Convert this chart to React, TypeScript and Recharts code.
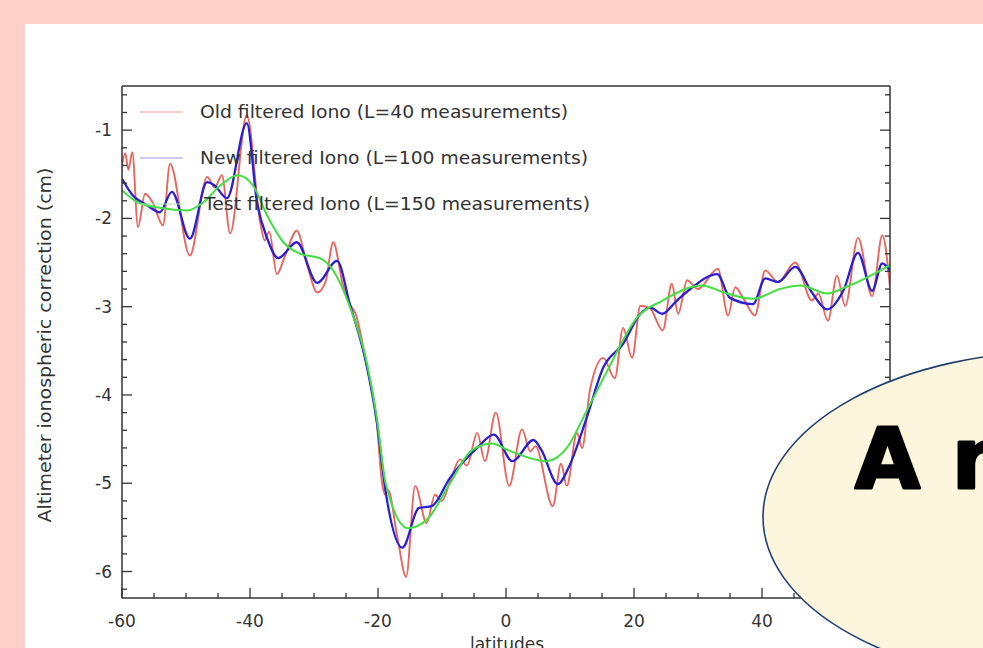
import React from "react";
import { Line, LineChart, XAxis, YAxis } from "recharts";

// latitudes / values, one pair of arrays per filter
const OLD_LAT = [
  -60, -59.5, -59.0, -58.4, -57.5, -56.4, -55.2, -53.6, -52.5, -49.4, -46.7, -45.5, -44.4, -43.1,
  -40.5, -38.4, -37.7, -37.0, -35.8, -34.5, -32.7, -31.0, -29.5, -28.2, -27.0, -25.5, -24.4, -23.5,
  -21.7, -20.2, -19.4, -18.9, -18.4, -17.0, -15.6, -14.2, -12.4, -11.1, -10.0, -8.75, -7.2, -6.1,
  -4.5, -3.3, -1.6, 0.5, 2.5, 3.8, 4.6, 7.3, 8.6, 9.5, 11.1, 11.9, 13.1, 15.2, 17.0, 18.3, 19.7,
  21.0, 22.5, 24.5, 25.9, 26.9, 28.3, 30.0, 33.1, 34.7, 35.8, 37.2, 38.9, 40.5, 42.5, 45.2, 47.8,
  48.8, 50.3, 51.7, 53.0, 55.0, 57.2, 58.8, 60,
];
const OLD_VAL = [
  -1.4, -1.26, -1.45, -1.25, -2.1, -1.72, -1.82, -2.08, -1.38, -2.42, -1.53, -1.65, -1.51, -2.17,
  -0.83, -2.05, -2.25, -2.15, -2.63, -2.42, -2.14, -2.55, -2.84, -2.72, -2.27, -2.75, -2.97, -3.08,
  -3.69, -4.3, -4.98, -5.13, -5.08, -5.6, -6.06, -5.03, -5.45, -5.13, -5.2, -4.98, -4.73, -4.8,
  -4.43, -4.75, -4.2, -5.03, -4.39, -4.64, -4.58, -5.26, -4.78, -5.03, -4.43, -4.6, -3.95, -3.58,
  -3.81, -3.24, -3.58, -2.99, -3.02, -3.27, -2.74, -3.08, -2.7, -2.8, -2.57, -3.1, -2.78, -2.92,
  -3.1, -2.59, -2.72, -2.5, -2.93, -2.85, -3.16, -2.65, -2.99, -2.22, -2.88, -2.19, -2.78,
];

const NEW_LAT = [
  -60, -58.3, -56.1, -54.1, -52.2, -49.4, -46.7, -45.5, -43.6, -40.5, -38.9, -37.3, -35.6, -32.7,
  -29.5, -26.4, -24.4, -21.7, -20.2, -18.8, -16.2, -13.6, -11.6, -8.75, -4.5, -1.9, 1.0, 4.3, 5.5,
  8.1, 9.8, 12.6, 15.2, 18.3, 21.0, 22.5, 24.4, 26.7, 28.8, 33.0, 35.0, 38.6, 40.5, 42.5, 45.2,
  47.8, 50.2, 52.7, 55.0, 57.2, 58.8, 60,
];
const NEW_VAL = [
  -1.55, -1.74, -1.85, -1.93, -1.7, -2.23, -1.59, -1.63, -1.77, -0.92, -1.82, -2.23, -2.45, -2.27,
  -2.73, -2.48, -2.97, -3.69, -4.3, -5.1, -5.73, -5.28, -5.26, -4.94, -4.6, -4.45, -4.75, -4.51,
  -4.62, -5.01, -4.82, -4.26, -3.69, -3.42, -3.08, -3.01, -3.08, -2.93, -2.8, -2.63, -2.9, -2.97,
  -2.68, -2.72, -2.55, -2.84, -3.03, -2.82, -2.39, -2.82, -2.51, -2.59,
];

const TEST_LAT = [
  -60, -57.5, -54.1, -49.8, -47.3, -44.7, -41.9, -39.5, -37.3, -34.8, -32.2, -29.1, -27.0, -24.4,
  -21.7, -20.2, -18.8, -15.3, -12.2, -8.75, -5.4, -2.2, 0.5, 6.3, 9.5, 12.6, 15.8, 20.5, 24.5,
  28.8, 30.5, 34.5, 38.6, 42.8, 46.0, 50.2, 53.0, 56.4, 60,
];
const TEST_VAL = [
  -1.68, -1.82, -1.88, -1.91, -1.82, -1.63, -1.51, -1.63, -1.97, -2.27, -2.4, -2.45, -2.59, -3.0,
  -3.65, -4.25, -5.0, -5.51, -5.4, -5.0, -4.63, -4.55, -4.63, -4.75, -4.6, -4.18, -3.73, -3.12,
  -2.93, -2.78, -2.76, -2.85, -2.91, -2.8, -2.76, -2.85, -2.78, -2.67, -2.53,
];

const X_TICKS = [
  -60, -55, -50, -45, -40, -35, -30, -25, -20, -15, -10, -5, 0, 5, 10, 15, 20, 25, 30, 35, 40, 45,
  50, 55, 60,
];
const X_LABELS = [-60, -40, -20, 0, 20, 40, 60];
const Y_TICKS = [
  -6.2, -6, -5.8, -5.6, -5.4, -5.2, -5, -4.8, -4.6, -4.4, -4.2, -4, -3.8, -3.6, -3.4, -3.2, -3,
  -2.8, -2.6, -2.4, -2.2, -2, -1.8, -1.6, -1.4, -1.2, -1, -0.8, -0.6,
];
const Y_LABELS = [-6, -5, -4, -3, -2, -1];

const LEGEND = [
  { name: "Old filtered Iono (L=40 measurements)", color: "#e99a9a", x: 200, len: 368 },
  { name: "New filtered Iono (L=100 measurements)", color: "#9a9ae6", x: 200, len: 388 },
  { name: "Test filtered Iono (L=150 measurements)", color: "#a8eaa8", x: 204, len: 386 },
];

const zip = (lat: number[], val: number[]) => lat.map((l, i) => ({ lat: l, v: val[i] }));
const oldData = zip(OLD_LAT, OLD_VAL);
const newData = zip(NEW_LAT, NEW_VAL);
const testData = zip(TEST_LAT, TEST_VAL);

const AXIS = "#333";
const FONT = "DejaVu Sans";

function BottomTick(p: any) {
  const major = X_LABELS.includes(p.payload.value);
  return (
    <g>
      <line x1={p.x} x2={p.x} y1={p.y} y2={p.y - (major ? 10 : 5)} stroke={AXIS} strokeWidth={1.3} />
      {major && (
        <text x={p.x} y={p.y + 29} textAnchor="middle" fontSize={17} fontFamily={FONT} fill="#333">
          {p.payload.value}
        </text>
      )}
    </g>
  );
}

function TopTick(p: any) {
  const major = X_LABELS.includes(p.payload.value);
  return <line x1={p.x} x2={p.x} y1={p.y} y2={p.y + (major ? 10 : 5)} stroke={AXIS} strokeWidth={1.3} />;
}

function LeftTick(p: any) {
  const major = Y_LABELS.includes(p.payload.value);
  return (
    <g>
      <line x1={p.x} x2={p.x + (major ? 10 : 5)} y1={p.y} y2={p.y} stroke={AXIS} strokeWidth={1.3} />
      {major && (
        <text x={p.x - 10} y={p.y + 6} textAnchor="end" fontSize={17} fontFamily={FONT} fill="#333">
          {p.payload.value}
        </text>
      )}
    </g>
  );
}

function RightTick(p: any) {
  const major = Y_LABELS.includes(p.payload.value);
  return <line x1={p.x} x2={p.x - (major ? 10 : 5)} y1={p.y} y2={p.y} stroke={AXIS} strokeWidth={1.3} />;
}

export default function App() {
  return (
    <div
      style={{
        position: "fixed",
        left: 0,
        top: 0,
        width: 983,
        height: 648,
        background: "#ffd0c8",
        overflow: "hidden",
      }}
    >
      <div style={{ position: "absolute", left: 25, top: 24, right: 0, bottom: 0, background: "#fff" }} />
      <div style={{ position: "absolute", left: 0, top: 0 }}>
        <LineChart width={983} height={648} margin={{ top: 85, right: 92, bottom: 20, left: 62 }}>
          <XAxis
            dataKey="lat"
            type="number"
            domain={[-60, 60]}
            ticks={X_TICKS}
            interval={0}
            height={30}
            tickSize={0}
            tickMargin={0}
            tickLine={false}
            tick={BottomTick}
            axisLine={{ stroke: AXIS, strokeWidth: 1.5 }}
            allowDataOverflow
          />
          <XAxis
            xAxisId="top"
            orientation="top"
            type="number"
            domain={[-60, 60]}
            ticks={X_TICKS}
            interval={0}
            height={1}
            tickSize={0}
            tickMargin={0}
            tickLine={false}
            tick={TopTick}
            axisLine={{ stroke: AXIS, strokeWidth: 1.5 }}
            allowDataOverflow
          />
          <YAxis
            type="number"
            domain={[-6.3, -0.5]}
            ticks={Y_TICKS}
            interval={0}
            width={60}
            tickSize={0}
            tickMargin={0}
            tickLine={false}
            tick={LeftTick}
            axisLine={{ stroke: AXIS, strokeWidth: 1.5 }}
            allowDataOverflow
          />
          <YAxis
            yAxisId="r"
            orientation="right"
            type="number"
            domain={[-6.3, -0.5]}
            ticks={Y_TICKS}
            interval={0}
            width={1}
            tickSize={0}
            tickMargin={0}
            tickLine={false}
            tick={RightTick}
            axisLine={{ stroke: AXIS, strokeWidth: 1.5 }}
            allowDataOverflow
          />
          <Line
            data={oldData}
            dataKey="v"
            type="monotone"
            stroke="#e8665f"
            strokeWidth={1.9}
            dot={false}
            isAnimationActive={false}
          />
          <Line
            data={newData}
            dataKey="v"
            type="monotone"
            stroke="#2b1fd2"
            strokeWidth={2.3}
            dot={false}
            isAnimationActive={false}
          />
          <Line
            data={testData}
            dataKey="v"
            type="monotone"
            stroke="#3fe03f"
            strokeWidth={2}
            dot={false}
            isAnimationActive={false}
          />
        </LineChart>
      </div>
      <svg
        width={983}
        height={648}
        style={{ position: "absolute", left: 0, top: 0, pointerEvents: "none" }}
      >
        {LEGEND.map((d, i) => (
          <g key={d.name}>
            <line x1={140} x2={183} y1={112 + i * 46} y2={112 + i * 46} stroke={d.color} strokeWidth={1.2} />
            <text
              x={d.x}
              y={118 + i * 46}
              fontSize={17}
              fontFamily={FONT}
              fill="#333"
              textLength={d.len}
              lengthAdjust="spacingAndGlyphs"
            >
              {d.name}
            </text>
          </g>
        ))}
        <text
          transform="translate(51,345) rotate(-90)"
          textAnchor="middle"
          fontSize={17}
          fontFamily={FONT}
          fill="#333"
          textLength={355}
          lengthAdjust="spacingAndGlyphs"
        >
          Altimeter ionospheric correction (cm)
        </text>
        <text x={507} y={650} textAnchor="middle" fontSize={17} fontFamily={FONT} fill="#333">
          latitudes
        </text>
        <ellipse cx={1063} cy={517} rx={300} ry={166} fill="#fdf5dc" stroke="#1f3f6e" strokeWidth={1.6} />
        <text
          x={855}
          y={488}
          fontSize={84}
          fontWeight="bold"
          fontFamily="'Liberation Sans Narrow', 'DejaVu Sans'"
          fill="#000"
          stroke="#000"
          strokeWidth={3}
          strokeLinejoin="round"
        >
          A<tspan x={952}>n</tspan>
        </text>
      </svg>
    </div>
  );
}
